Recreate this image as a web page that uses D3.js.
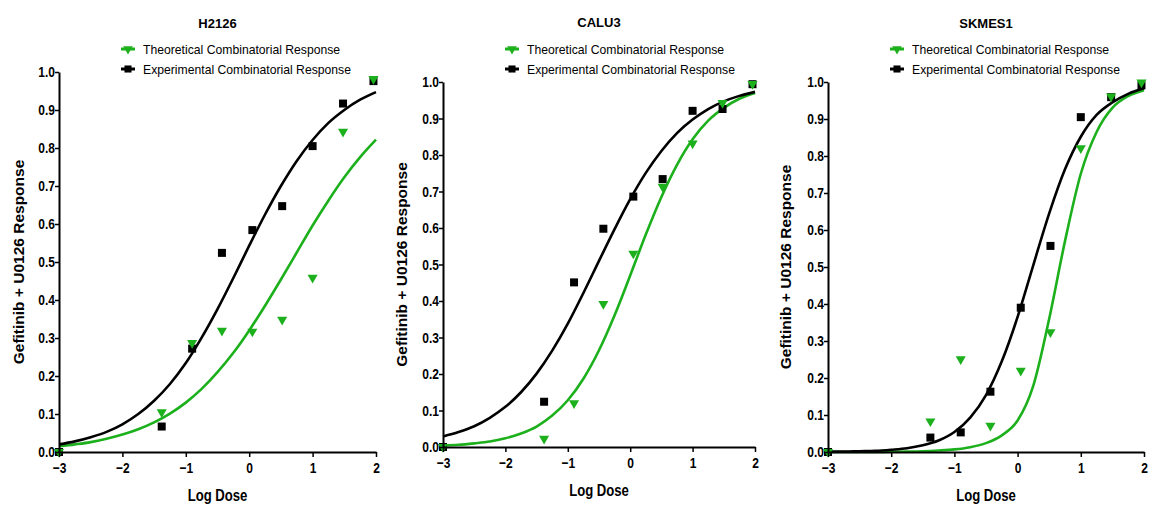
<!DOCTYPE html>
<html>
<head>
<meta charset="utf-8">
<script src="https://cdn.jsdelivr.net/npm/d3@7"></script>
<style>
  body { margin: 0; background: #fff; }
  text { font-family: "Liberation Sans", Arial, sans-serif; }
</style>
</head>
<body>
<div class="chart"></div>
<script>
// log dose of each measurement (-3 stands for the untreated control)
let doses = [-3, -1.38, -0.9, -0.43, 0.05, 0.52, 1.0, 1.48, 1.96];

let h2126Exp = [0.0, 0.067, 0.272, 0.524, 0.584, 0.647, 0.805, 0.917, 0.976];
let h2126Theo = [0.0, 0.105, 0.287, 0.319, 0.317, 0.348, 0.459, 0.843, 0.982];
let calu3Exp = [0.0, 0.124, 0.451, 0.598, 0.686, 0.734, 0.921, 0.926, 0.994];
let calu3Theo = [0.0, 0.023, 0.12, 0.392, 0.53, 0.713, 0.832, 0.943, 0.995];
let skmes1Exp = [0.0, 0.039, 0.053, 0.163, 0.39, 0.557, 0.905, 0.959, 0.991];
let skmes1Theo = [0.0, 0.083, 0.251, 0.071, 0.22, 0.324, 0.821, 0.961, 0.999];

// fitted curves, every 0.25 log units
let fitX = [-3, -2.75, -2.5, -2.25, -2, -1.75, -1.5, -1.25, -1, -0.75, -0.5,
  -0.25, 0, 0.25, 0.5, 0.75, 1, 1.25, 1.5, 1.75, 2];
let h2126ExpFit = [0.020, 0.028, 0.039, 0.053, 0.073, 0.100, 0.135, 0.179, 0.234, 0.301, 0.376,
  0.458, 0.543, 0.625, 0.700, 0.766, 0.821, 0.866, 0.900, 0.927, 0.947];
let h2126TheoFit = [0.015, 0.020, 0.026, 0.035, 0.046, 0.060, 0.078, 0.101, 0.130, 0.166, 0.210,
  0.261, 0.320, 0.385, 0.454, 0.525, 0.596, 0.662, 0.723, 0.776, 0.822];
let calu3ExpFit = [0.029, 0.041, 0.057, 0.080, 0.110, 0.150, 0.201, 0.264, 0.338, 0.422, 0.510,
  0.597, 0.679, 0.751, 0.811, 0.860, 0.897, 0.926, 0.947, 0.962, 0.973];
let calu3TheoFit = [0.004, 0.006, 0.010, 0.015, 0.024, 0.037, 0.056, 0.086, 0.128, 0.187, 0.265,
  0.361, 0.470, 0.582, 0.685, 0.773, 0.843, 0.894, 0.929, 0.954, 0.970];
let skmes1ExpFit = [0.001, 0.001, 0.002, 0.003, 0.006, 0.010, 0.018, 0.031, 0.054, 0.093, 0.154,
  0.245, 0.365, 0.506, 0.645, 0.764, 0.852, 0.911, 0.945, 0.968, 0.983];
let skmes1TheoFit = [0.0, 0.0, 0.0001, 0.0003, 0.0005, 0.001, 0.002, 0.004, 0.007, 0.013, 0.024,
  0.045, 0.085, 0.18, 0.36, 0.57, 0.752, 0.865, 0.93, 0.962, 0.978];

let xTicks = [-3, -2, -1, 0, 1, 2];
let yTicks = [0, 0.1, 0.2, 0.3, 0.4, 0.5, 0.6, 0.7, 0.8, 0.9, 1.0];
let legendLabels = ['Theoretical Combinatorial Response', 'Experimental Combinatorial Response'];

let green = '#1db01d';

let panels = [
  {title: 'H2126', exp: h2126Exp, theo: h2126Theo, expFit: h2126ExpFit, theoFit: h2126TheoFit,
    left: 59, right: 376, top: 72, bottom: 452, legendX: 128, titleY: 28, xTitleY: 501, yTitleX: 24},
  {title: 'CALU3', exp: calu3Exp, theo: calu3Theo, expFit: calu3ExpFit, theoFit: calu3TheoFit,
    left: 443, right: 755, top: 82, bottom: 447, legendX: 512, titleY: 27, xTitleY: 496, yTitleX: 407},
  {title: 'SKMES1', exp: skmes1Exp, theo: skmes1Theo, expFit: skmes1ExpFit, theoFit: skmes1TheoFit,
    left: 828, right: 1144, top: 82, bottom: 452, legendX: 897, titleY: 28, xTitleY: 501, yTitleX: 791}
];

let svg = d3.select('.chart')
  .append('svg')
    .attr('width', 1150)
    .attr('height', 506);

panels.forEach(p => {
  let g = svg.append('g');

  let x = d3.scaleLinear().domain([-3, 2]).range([p.left, p.right]);
  let y = d3.scaleLinear().domain([0, 1]).range([p.bottom, p.top]);

  let line = d3.line()
    .x((d, i) => x(fitX[i]))
    .y(d => y(d))
    .curve(d3.curveMonotoneX);

  g.append('path')
    .attr('d', line(p.theoFit))
    .style('fill', 'none')
    .style('stroke', green)
    .style('stroke-width', 2.6);

  g.append('path')
    .attr('d', line(p.expFit))
    .style('fill', 'none')
    .style('stroke', '#000')
    .style('stroke-width', 2.6);

  g.selectAll('.sq')
    .data(p.exp)
    .enter().append('path')
      .attr('d', d3.symbol(d3.symbolSquare, 64))
      .attr('transform', (d, i) => `translate(${x(doses[i])}, ${y(d)})`)
      .style('fill', '#000');

  g.selectAll('.tri')
    .data(p.theo)
    .enter().append('path')
      .attr('d', d3.symbol(d3.symbolTriangle, 44))
      .attr('transform', (d, i) => `translate(${x(doses[i])}, ${y(d)}) rotate(180)`)
      .style('fill', green);

  let yAxis = d3.axisLeft(y)
    .tickValues(yTicks)
    .tickFormat(d3.format('.1f'))
    .tickSizeInner(4)
    .tickSizeOuter(0)
    .tickPadding(1);

  let yg = g.append('g')
    .attr('transform', `translate(${p.left}, 0)`)
    .call(yAxis);

  let xAxis = d3.axisBottom(x)
    .tickValues(xTicks)
    .tickFormat(d3.format('d'))
    .tickSizeInner(5)
    .tickSizeOuter(0)
    .tickPadding(5);

  let xg = g.append('g')
    .attr('transform', `translate(0, ${p.bottom})`)
    .call(xAxis);

  [yg, xg].forEach(a => {
    a.select('.domain').style('stroke', '#000').style('stroke-width', 2);
    a.selectAll('.tick line').style('stroke', '#000').style('stroke-width', 1.5);
    a.selectAll('.tick text')
      .attr('transform', 'scale(0.8, 1)')
      .style('font-size', '15px')
      .style('font-weight', 'bold')
      .style('fill', '#000');
  });

  g.append('text')
    .attr('x', (p.left + p.right) / 2)
    .attr('y', p.titleY)
    .attr('text-anchor', 'middle')
    .style('font-size', '13px')
    .style('font-weight', 'bold')
    .text(p.title);

  g.append('text')
    .attr('transform', `translate(${(p.left + p.right) / 2}, ${p.xTitleY}) scale(0.82, 1)`)
    .attr('text-anchor', 'middle')
    .style('font-size', '16px')
    .style('font-weight', 'bold')
    .text('Log Dose');

  g.append('text')
    .attr('transform', `translate(${p.yTitleX}, ${(p.top + p.bottom) / 2}) rotate(-90)`)
    .attr('text-anchor', 'middle')
    .style('font-size', '15.5px')
    .style('font-weight', 'bold')
    .text('Gefitinib + U0126 Response');

  // legend
  legendLabels.forEach((label, i) => {
    let ly = 49 + i * 20;
    let col = i === 0 ? green : '#000';
    g.append('line')
      .attr('x1', p.legendX - 7)
      .attr('x2', p.legendX + 7)
      .attr('y1', ly)
      .attr('y2', ly)
      .style('stroke', col)
      .style('stroke-width', 3);
    g.append('path')
      .attr('d', d3.symbol(i === 0 ? d3.symbolTriangle : d3.symbolSquare, i === 0 ? 40 : 50))
      .attr('transform', `translate(${p.legendX}, ${ly})` + (i === 0 ? ' rotate(180)' : ''))
      .style('fill', col);
    g.append('text')
      .attr('x', p.legendX + 15)
      .attr('y', ly + 4.5)
      .style('font-size', '12.2px')
      .text(label);
  });
});
</script>
</body>
</html>
